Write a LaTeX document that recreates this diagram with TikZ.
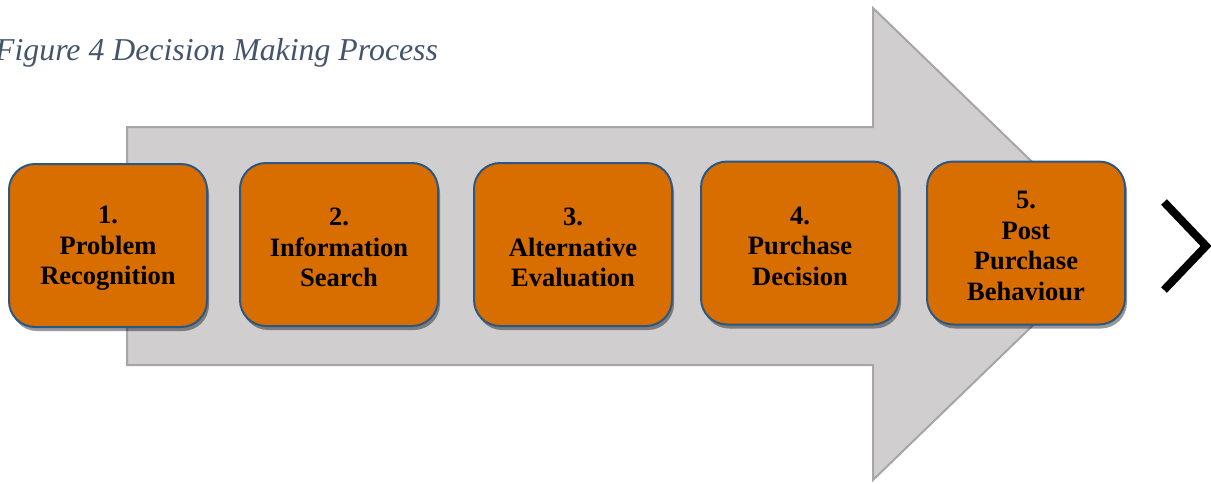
\documentclass[tikz,border=0pt]{standalone}
\usepackage{fontspec}
\setmainfont{Liberation Serif}
\usetikzlibrary{shadows}
\definecolor{boxorange}{HTML}{D86D00}
\definecolor{boxblue}{HTML}{2A5784}
\definecolor{arrowgray}{HTML}{D0CECE}
\definecolor{arrowline}{HTML}{A6A6A6}
\definecolor{titlecol}{HTML}{44546A}
\tikzset{
  stepbox/.style={draw=boxblue, line width=2pt, fill=boxorange, rounded corners=26pt,
    minimum width=198pt, minimum height=163pt, inner sep=0pt,
    drop shadow={shadow xshift=2pt, shadow yshift=-4pt, fill=black, opacity=0.4}},
  steptext/.style={inner sep=0pt, align=center,
    font=\bfseries\fontsize{26.5}{30.5}\selectfont, text=black},
  bigarrow/.style={fill=arrowgray, draw=arrowline, line width=2pt, line join=miter},
  chevron/.style={draw=black, line width=8pt, line join=miter, line cap=butt}
}
\begin{document}
\begin{tikzpicture}[x=1pt,y=-1pt]
\useasboundingbox (0,0) rectangle (1211,483);
\clip (0,0) rectangle (1211,483);
% big arrow
\draw[bigarrow] (127,127) -- (873,127) -- (873,8) -- (1117,244) -- (873,480) -- (873,365) -- (127,365) -- cycle;
% title
\node[anchor=base west, inner sep=0, text=titlecol, font=\itshape\fontsize{31.8}{36}\selectfont] (title) at (-5,60) {Figure 4 Decision Making Process};
% steps
\node[stepbox] (s1) at (108,245.5) {};
\node[stepbox] (s2) at (339,244.5) {};
\node[stepbox] (s3) at (573,244.5) {};
\node[stepbox] (s4) at (800,243) {};
\node[stepbox] (s5) at (1026,243) {};
\node[steptext] (t1) at ([yshift=-3pt]s1.center) {1.\\Problem\\Recognition};
\node[steptext] (t2) at ([yshift=-3pt]s2.center) {2.\\Information\\Search};
\node[steptext] (t3) at ([yshift=-3pt]s3.center) {3.\\Alternative\\Evaluation};
\node[steptext] (t4) at ([yshift=-3pt]s4.center) {4.\\Purchase\\Decision};
\node[steptext] (t5) at ([yshift=-3pt]s5.center) {5.\\Post\\Purchase\\Behaviour};
% chevron
\coordinate (c1) at (1164,202);
\coordinate (c2) at (1206,246);
\coordinate (c3) at (1164,290);
\draw[chevron] (c1) -- (c2) -- (c3);
\end{tikzpicture}
\end{document}
